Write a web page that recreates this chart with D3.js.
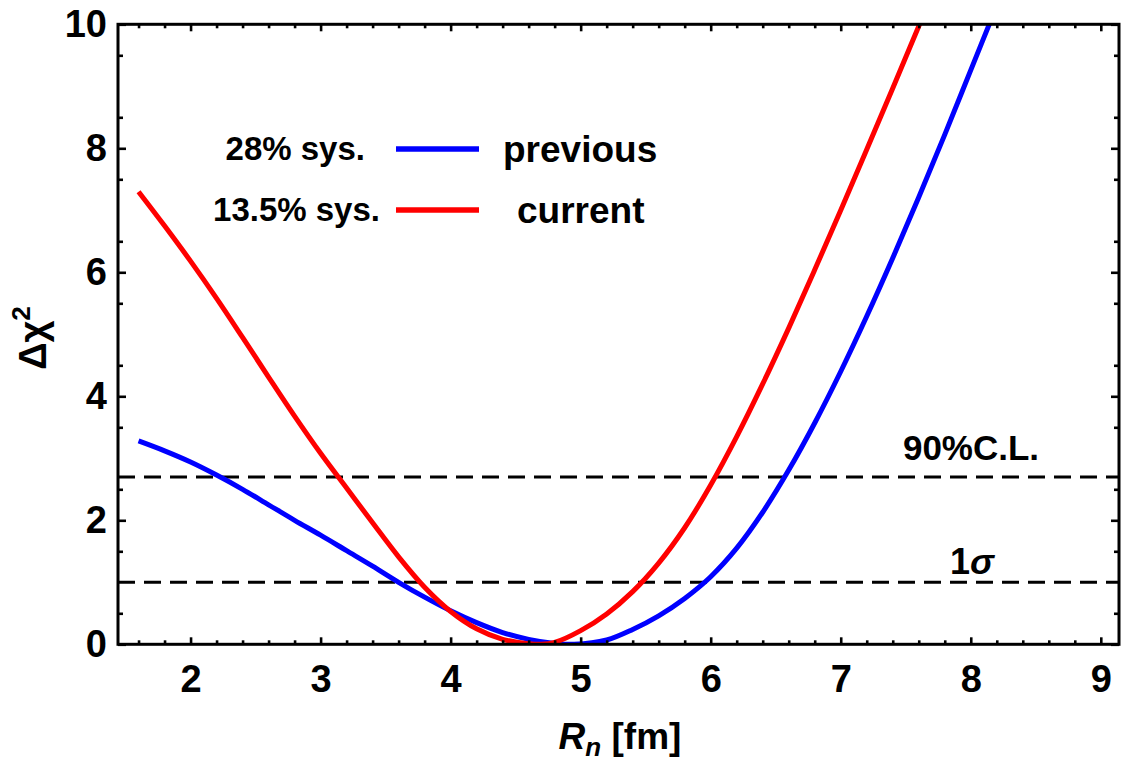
<!DOCTYPE html>
<html>
<head>
<meta charset="utf-8">
<script src="https://cdn.jsdelivr.net/npm/d3@7"></script>
<style>
  html, body { margin: 0; padding: 0; background: #fff; }
  svg text { font-family: "Liberation Sans", Arial, Helvetica, sans-serif; font-weight: bold; }
</style>
</head>
<body>
<svg id="chart" width="1125" height="767"></svg>
<script>
// ---- data ----
const currentX = [1.6, 1.8, 2.0, 2.2, 2.4, 2.6, 2.8, 3.0, 3.2, 3.4, 3.6, 3.8, 4.0, 4.2, 4.4, 4.6, 4.7, 4.8, 5.0, 5.2, 5.4, 5.6, 5.8, 6.0, 6.2, 6.4, 6.6, 6.8, 7.0, 7.2, 7.4, 7.6, 7.8];
const currentY = [7.30, 6.75, 6.18, 5.58, 4.95, 4.31, 3.68, 3.08, 2.52, 1.96, 1.41, 0.92, 0.53, 0.25, 0.08, 0.01, 0.0, 0.03, 0.22, 0.49, 0.85, 1.31, 1.88, 2.57, 3.35, 4.20, 5.10, 6.04, 7.00, 7.98, 8.97, 9.97, 10.97];
const previousX = [1.6, 1.8, 2.0, 2.2, 2.4, 2.6, 2.8, 3.0, 3.2, 3.4, 3.6, 3.8, 4.0, 4.2, 4.4, 4.6, 4.8, 4.95, 5.2, 5.4, 5.6, 5.8, 6.0, 6.2, 6.4, 6.6, 6.8, 7.0, 7.2, 7.4, 7.6, 7.8, 8.0, 8.2];
const previousY = [3.28, 3.12, 2.94, 2.73, 2.50, 2.25, 2.00, 1.76, 1.51, 1.26, 1.00, 0.76, 0.54, 0.35, 0.19, 0.08, 0.015, 0.0, 0.07, 0.24, 0.46, 0.74, 1.09, 1.55, 2.13, 2.81, 3.57, 4.40, 5.29, 6.23, 7.21, 8.22, 9.26, 10.3];
const refLevels = [2.7, 1.0];
const refLabels = ["90%C.L.", "1σ"];
const xMajorTicks = [2, 3, 4, 5, 6, 7, 8, 9];
const yMajorTicks = [0, 2, 4, 6, 8, 10];
const legendLeft = ["28% sys.", "13.5% sys."];
const legendRight = ["previous", "current"];
const seriesColors = ["#0000ff", "#ff0000"];

// ---- layout ----
const L = 118, R = 1119, T = 24.3, B = 644.3;
const svg = d3.select("#chart");
const x = d3.scaleLinear().domain([1.442, 9.14]).range([L, R]);
const y = d3.scaleLinear().domain([0, 10]).range([B, T]);

const xMinor = d3.range(16, 91, 2).map(v => v / 10).filter(v => !xMajorTicks.includes(v));
const yMinor = d3.range(1, 20, 2).map(v => v / 2);

svg.append("defs").append("clipPath").attr("id", "plotclip")
  .append("rect").attr("x", L).attr("y", T).attr("width", R - L).attr("height", B - T);

// reference dashed lines
svg.append("g").selectAll("line").data(refLevels).join("line")
  .attr("x1", L).attr("x2", R)
  .attr("y1", d => y(d)).attr("y2", d => y(d))
  .attr("stroke", "#000").attr("stroke-width", 3)
  .attr("stroke-dasharray", "17 9");

// curves
const line = d3.line().x(d => x(d[0])).y(d => y(d[1])).curve(d3.curveCatmullRom.alpha(0.5));
const series = [
  d3.zip(previousX, previousY),
  d3.zip(currentX, currentY)
];
svg.append("g").attr("clip-path", "url(#plotclip)")
  .selectAll("path").data(series).join("path")
  .attr("d", d => line(d))
  .attr("fill", "none")
  .attr("stroke", (d, i) => seriesColors[i])
  .attr("stroke-width", 5)
  .attr("stroke-linejoin", "round");

// axes
function styleAxis(g) {
  g.select(".domain").remove();
  g.selectAll(".tick line").attr("stroke", "#000").attr("stroke-width", 2.6);
  g.selectAll(".tick text").attr("fill", "#000").style("font-size", "38px");
}
svg.append("g").attr("transform", `translate(0,${B})`)
  .call(d3.axisBottom(x).tickValues(xMajorTicks).tickSizeInner(-7).tickSizeOuter(0).tickPadding(21).tickFormat(d3.format("d")))
  .call(styleAxis);
svg.append("g").attr("transform", `translate(0,${B})`)
  .call(d3.axisBottom(x).tickValues(xMinor).tickSizeInner(-4).tickSizeOuter(0).tickFormat(""))
  .call(styleAxis);
svg.append("g").attr("transform", `translate(0,${T})`)
  .call(d3.axisTop(x).tickValues(xMajorTicks).tickSizeInner(-7).tickSizeOuter(0).tickFormat(""))
  .call(styleAxis);
svg.append("g").attr("transform", `translate(0,${T})`)
  .call(d3.axisTop(x).tickValues(xMinor).tickSizeInner(-4).tickSizeOuter(0).tickFormat(""))
  .call(styleAxis);
svg.append("g").attr("transform", `translate(${L},0)`)
  .call(d3.axisLeft(y).tickValues(yMajorTicks).tickSizeInner(-8).tickSizeOuter(0).tickPadding(11).tickFormat(d3.format("d")))
  .call(styleAxis);
svg.append("g").attr("transform", `translate(${L},0)`)
  .call(d3.axisLeft(y).tickValues(yMinor).tickSizeInner(-5).tickSizeOuter(0).tickFormat(""))
  .call(styleAxis);
svg.append("g").attr("transform", `translate(${R},0)`)
  .call(d3.axisRight(y).tickValues(yMajorTicks).tickSizeInner(-8).tickSizeOuter(0).tickFormat(""))
  .call(styleAxis);
svg.append("g").attr("transform", `translate(${R},0)`)
  .call(d3.axisRight(y).tickValues(yMinor).tickSizeInner(-5).tickSizeOuter(0).tickFormat(""))
  .call(styleAxis);

// frame
svg.append("rect").attr("x", L).attr("y", T).attr("width", R - L).attr("height", B - T)
  .attr("fill", "none").attr("stroke", "#000").attr("stroke-width", 3);

// reference labels
svg.append("text").attr("x", 971).attr("y", 460).attr("text-anchor", "middle")
  .style("font-size", "35px").text(refLabels[0]);
const sig = svg.append("text").attr("x", 972).attr("y", 574).attr("text-anchor", "middle")
  .style("font-size", "36px");
sig.append("tspan").text(refLabels[1].charAt(0));
sig.append("tspan").style("font-style", "italic").text(refLabels[1].slice(1));

// legend
const legY = [149, 210];
const leftEnd = [365, 380];
const rightStart = [503, 517];
legY.forEach((ly, i) => {
  svg.append("text").attr("x", leftEnd[i]).attr("y", ly + 11).attr("text-anchor", "end")
    .style("font-size", "33px").text(legendLeft[i]);
  svg.append("line").attr("x1", 396).attr("x2", 479).attr("y1", ly).attr("y2", ly)
    .attr("stroke", seriesColors[i]).attr("stroke-width", 5.5);
  svg.append("text").attr("x", rightStart[i]).attr("y", ly + 13)
    .style("font-size", "37px").text(legendRight[i]);
});

// axis titles
const xt = svg.append("text").attr("x", 620).attr("y", 749).attr("text-anchor", "middle")
  .style("font-size", "37px");
xt.append("tspan").style("font-style", "italic").text("R");
xt.append("tspan").style("font-style", "italic").style("font-size", "26px").attr("dy", 7).text("n");
xt.append("tspan").attr("dy", -7).text(" [fm]");

const yt = svg.append("text").attr("transform", `translate(46,338) rotate(-90)`)
  .attr("text-anchor", "middle").style("font-size", "38px");
yt.append("tspan").text("Δχ");
yt.append("tspan").style("font-size", "26px").attr("dy", -16).text("2");
</script>
</body>
</html>
